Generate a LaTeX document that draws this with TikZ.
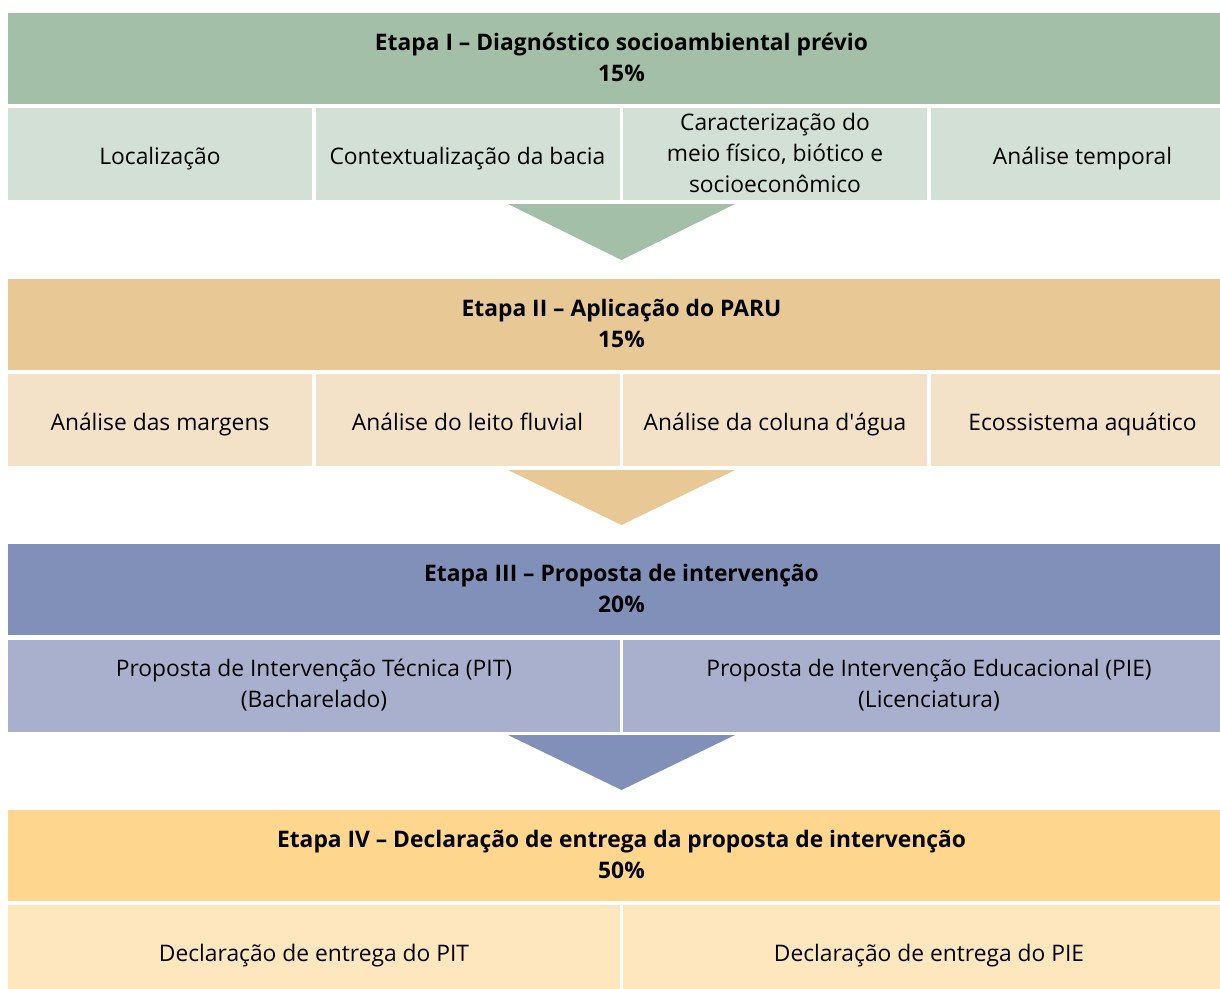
\documentclass[tikz,border=0pt]{standalone}
\usepackage{fontspec}
\setmainfont{Open Sans}
\definecolor{hI}{HTML}{A3BFA8}
\definecolor{sI}{HTML}{D2E0D5}
\definecolor{hII}{HTML}{E8C995}
\definecolor{sII}{HTML}{F3E2C8}
\definecolor{hIII}{HTML}{8090B8}
\definecolor{sIII}{HTML}{A8B0CE}
\definecolor{hIV}{HTML}{FED68E}
\definecolor{sIV}{HTML}{FEE6BF}
\newcommand{\cellstrut}{\rule[-5pt]{0pt}{31pt}}
\newcommand{\headstrut}{\rule[-2pt]{0pt}{31pt}}
\newcommand{\nodestrut}{\cellstrut}
\tikzset{
  cell/.style={inner sep=0pt, outer sep=0pt, anchor=north west, align=center, text=black,
    font=\fontsize{22.8}{31}\selectfont,
    execute at begin node={\nodestrut}, execute at end node={\nodestrut}},
  head/.style={cell, minimum width=1227pt, minimum height=91pt,
    font=\fontsize{22.8}{31}\selectfont\bfseries\let\nodestrut\headstrut},
  sub4/.style={cell, minimum width=304pt, minimum height=92pt},
  sub2/.style={cell, minimum width=612pt, minimum height=92pt},
  tall/.style={font=\fontsize{22.8}{31}\selectfont\let\nodestrut\headstrut},
}
\begin{document}
\begin{tikzpicture}[x=1pt,y=-1pt]
\useasboundingbox (0,0) rectangle (1220,988);
\clip (0,0) rectangle (1220,988);
% Stage I
\node[head, fill=hI] (h1) at (8,13) {Etapa I – Diagnóstico socioambiental prévio\\15\%};
\node[sub4, fill=sI] (a1) at (8,108) {Localização};
\node[sub4, fill=sI] (a2) at (315.5,108) {Contextualização da bacia};
\node[sub4, fill=sI, tall] (a3) at (623,108) {Caracterização do\\meio físico, biótico e\\socioeconômico};
\node[sub4, fill=sI] (a4) at (930.5,108) {Análise temporal};
\fill[hI] (508,204) -- (735,204) -- (621.5,260) -- cycle;
% Stage II
\node[head, fill=hII] (h2) at (8,279) {Etapa II – Aplicação do PARU\\15\%};
\node[sub4, fill=sII] (b1) at (8,374) {Análise das margens};
\node[sub4, fill=sII] (b2) at (315.5,374) {Análise do leito fluvial};
\node[sub4, fill=sII] (b3) at (623,374) {Análise da coluna d\textquotesingle água};
\node[sub4, fill=sII] (b4) at (930.5,374) {Ecossistema aquático};
\fill[hII] (508,470) -- (735,470) -- (621.5,525) -- cycle;
% Stage III
\node[head, fill=hIII] (h3) at (8,544) {Etapa III – Proposta de intervenção\\20\%};
\node[sub2, fill=sIII] (c1) at (8,640) {Proposta de Intervenção Técnica (PIT)\\(Bacharelado)};
\node[sub2, fill=sIII] (c2) at (623,640) {Proposta de Intervenção Educacional (PIE)\\(Licenciatura)};
\fill[hIII] (508,735) -- (735,735) -- (621.5,790) -- cycle;
% Stage IV
\node[head, fill=hIV] (h4) at (8,810) {Etapa IV – Declaração de entrega da proposta de intervenção\\50\%};
\node[sub2, fill=sIV] (d1) at (8,905) {Declaração de entrega do PIT};
\node[sub2, fill=sIV] (d2) at (623,905) {Declaração de entrega do PIE};
\end{tikzpicture}
\end{document}
